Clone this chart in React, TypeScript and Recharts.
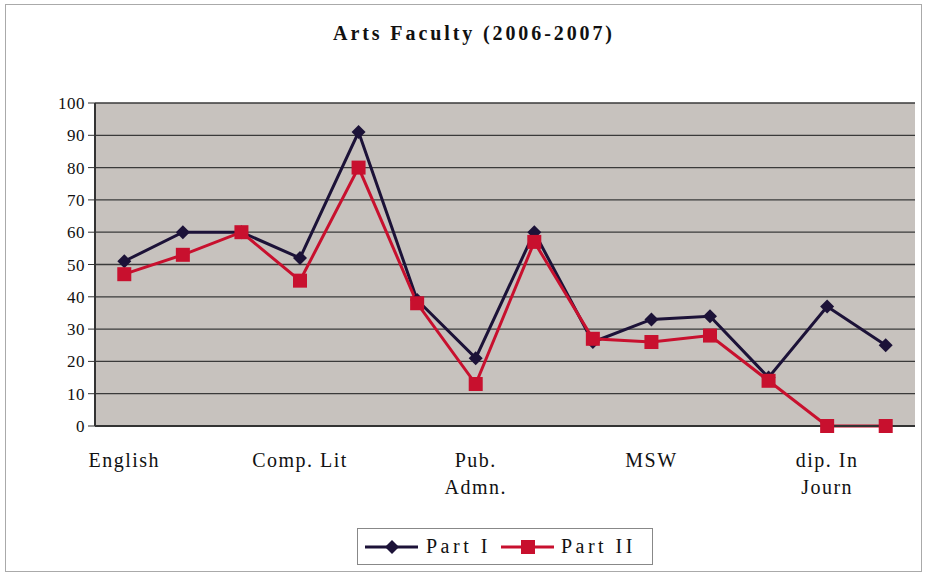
import { CartesianGrid, Legend, Line, LineChart, XAxis, YAxis } from "recharts";

const categories = ["English", "", "", "Comp. Lit", "", "", "Pub.\nAdmn.", "", "", "MSW", "", "", "dip. In\nJourn", ""];
const partI = [51, 60, 60, 52, 91, 39, 21, 60, 26, 33, 34, 15, 37, 25];
const partII = [47, 53, 60, 45, 80, 38, 13, 57, 27, 26, 28, 14, 0, 0];
const yTicks = [0, 10, 20, 30, 40, 50, 60, 70, 80, 90, 100];
const labelTicks = [0, 3, 6, 9, 12];

const font = "'Liberation Serif', 'DejaVu Serif', serif";
const colI = "#1c1238";
const colII = "#c8102e";

const data = categories.map((name, i) => ({ idx: i, name, partI: partI[i], partII: partII[i] }));
// tick marks sit between categories, like the original
const bounds = categories.map((_, i) => i - 0.5).concat(categories.length - 0.5);

const Diamond = (props: any) => {
	const { cx, cy } = props;
	if (cx == null || cy == null) return null;
	return <polygon points={`${cx},${cy - 7} ${cx + 7},${cy} ${cx},${cy + 7} ${cx - 7},${cy}`} fill={colI} />;
};

const Square = (props: any) => {
	const { cx, cy } = props;
	if (cx == null || cy == null) return null;
	return <rect x={cx - 7} y={cy - 7} width={14} height={14} fill={colII} />;
};

const CatTick = (props: any) => {
	const { x, y, payload } = props;
	const lines = (categories[payload.value] || "").split("\n");
	return (
		<text x={x} y={y} textAnchor="middle" fill="#111" fontSize={20} fontFamily={font} letterSpacing={1.5}>
			{lines.map((l, i) => (
				<tspan key={i} x={x} dy={i === 0 ? 33 : 27}>{l}</tspan>
			))}
		</text>
	);
};

const renderLegend = () => (
	<div style={{ boxSizing: "border-box", width: 296, height: 37, border: "1px solid #888", background: "#fff", display: "flex", alignItems: "center", paddingLeft: 7, fontFamily: font, fontSize: 20, letterSpacing: 3.5, color: "#111", whiteSpace: "nowrap" }}>
		<svg width={53} height={16}>
			<line x1={0} y1={8} x2={53} y2={8} stroke={colI} strokeWidth={3} />
			<polygon points="27,1 34,8 27,15 20,8" fill={colI} />
		</svg>
		<span style={{ marginLeft: 8, marginRight: 10 }}>Part I</span>
		<svg width={53} height={16}>
			<line x1={0} y1={8} x2={53} y2={8} stroke={colII} strokeWidth={3} />
			<rect x={20} y={1} width={14} height={14} fill={colII} />
		</svg>
		<span style={{ marginLeft: 7 }}>Part II</span>
	</div>
);

export default function App() {
	return (
		<div style={{ position: "absolute", left: 0, top: 0, width: 926, height: 574, background: "#fff" }}>
			<div style={{ position: "absolute", left: 5, top: 4, width: 915, height: 566, border: "1px solid #aaa" }} />
			<div style={{ position: "absolute", left: 0, top: 22, width: 948, textAlign: "center", fontFamily: font, fontWeight: "bold", fontSize: 20, letterSpacing: 2.9, color: "#111" }}>
				Arts Faculty (2006-2007)
			</div>
			<LineChart width={926} height={574} data={data} margin={{ top: 103, right: 11, left: 60, bottom: 9 }}>
				<CartesianGrid vertical={false} stroke="#3a3a3a" strokeWidth={1.3} fill="#c7c2be" fillOpacity={1} />
				<XAxis dataKey="idx" type="number" domain={[-0.5, 13.5]} ticks={bounds} interval={0} tick={false} tickSize={7} tickLine={{ stroke: "#333" }} axisLine={{ stroke: "#333", strokeWidth: 2 }} height={8} />
				<XAxis xAxisId="lab" dataKey="idx" type="number" domain={[-0.5, 13.5]} ticks={labelTicks} interval={0} axisLine={false} tickLine={false} tickSize={0} tickMargin={0} tick={<CatTick />} height={94} />
				<YAxis domain={[0, 100]} ticks={yTicks} interval={0} width={35} tickSize={7} tickMargin={3} tickLine={{ stroke: "#333" }} axisLine={{ stroke: "#333", strokeWidth: 2 }} tick={{ fill: "#111", fontSize: 17, fontFamily: font, letterSpacing: 0.5 }} />
				<YAxis yAxisId="r" orientation="right" domain={[0, 100]} width={0} tick={false} tickLine={false} axisLine={{ stroke: "#555", strokeWidth: 2 }} />
				<Legend verticalAlign="bottom" height={37} content={renderLegend} wrapperStyle={{ left: 357, width: 296, bottom: 9 }} />
				<Line dataKey="partI" name="Part I" stroke={colI} strokeWidth={3} dot={<Diamond />} activeDot={false} isAnimationActive={false} />
				<Line dataKey="partII" name="Part II" stroke={colII} strokeWidth={3} dot={<Square />} activeDot={false} isAnimationActive={false} />
			</LineChart>
		</div>
	);
}
